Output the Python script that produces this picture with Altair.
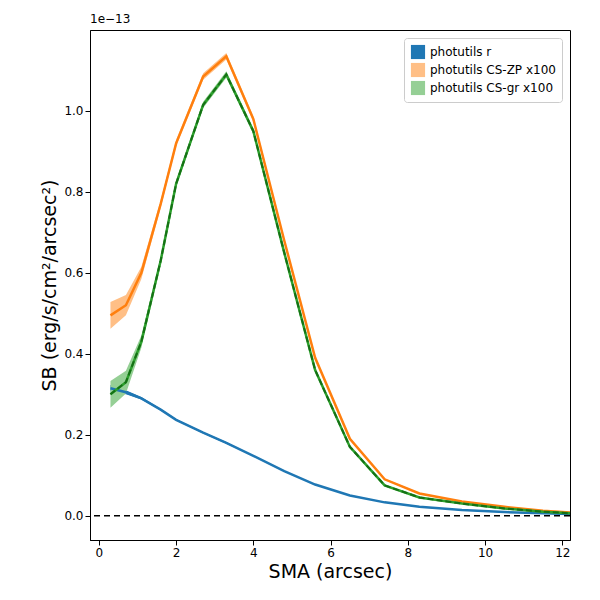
import altair as alt
import pandas as pd

sma = [0.3, 0.7, 1.1, 1.6, 2.0, 2.7, 3.3, 4.0, 4.8, 5.6, 6.5, 7.4, 8.3, 9.4, 10.5, 11.5, 12.2]
sb_r = [0.315, 0.305, 0.29, 0.262, 0.237, 0.205, 0.18, 0.148, 0.11, 0.077, 0.05, 0.033, 0.022, 0.014, 0.009, 0.006, 0.004]
sb_zp = [0.495, 0.52, 0.60, 0.77, 0.92, 1.085, 1.135, 0.98, 0.68, 0.39, 0.19, 0.09, 0.055, 0.035, 0.022, 0.012, 0.008]
sb_gr = [0.30, 0.33, 0.43, 0.63, 0.82, 1.015, 1.09, 0.95, 0.65, 0.36, 0.17, 0.075, 0.045, 0.03, 0.018, 0.01, 0.006]
err_zp = [0.033, 0.025, 0.015, 0.01, 0.008, 0.008, 0.008, 0.007, 0.005, 0.004, 0.003, 0.002, 0.002, 0.001, 0.001, 0.001, 0.001]
err_gr = [0.033, 0.028, 0.015, 0.01, 0.008, 0.008, 0.008, 0.007, 0.005, 0.004, 0.003, 0.002, 0.002, 0.001, 0.001, 0.001, 0.001]
err_r = [0.008, 0.005, 0.003, 0.002, 0.002, 0.002, 0.002, 0.001, 0.001, 0.001, 0.001, 0.001, 0.001, 0.001, 0.001, 0.001, 0.001]

names = ["photutils r", "photutils CS-ZP x100", "photutils CS-gr x100"]
rows = []
for name, vals, errs in zip(names, [sb_r, sb_zp, sb_gr], [err_r, err_zp, err_gr]):
    for x, v, e in zip(sma, vals, errs):
        rows.append({"sma": x, "sb": v, "lo": v - e, "hi": v + e, "series": name})
df = pd.DataFrame(rows)

xs = alt.Scale(domain=[-0.23, 12.2], nice=False)
ys = alt.Scale(domain=[-0.06, 1.2], nice=False)
X = alt.X("sma:Q", scale=xs, title="SMA (arcsec)",
          axis=alt.Axis(values=[0, 2, 4, 6, 8, 10, 12], format="d", grid=False))

bands = alt.Chart(df).mark_area().encode(
    x=X,
    y=alt.Y("lo:Q", scale=ys, title="SB (erg/s/cm²/arcsec²)",
            axis=alt.Axis(values=[0, 0.2, 0.4, 0.6, 0.8, 1.0], format=".1f", grid=False)),
    y2="hi:Q",
    color=alt.Color("series:N", sort=names,
                    scale=alt.Scale(domain=names, range=["#1f77b4", "#ffbf86", "#95cf95"]),
                    legend=alt.Legend(title=None, orient="top-right", symbolType="square",
                                      symbolSize=200, labelFontSize=12, symbolOpacity=1,
                                      strokeColor="#cccccc", fillColor="white", padding=6,
                                      cornerRadius=3, offset=8)),
)

lines = alt.Chart(df).mark_line(strokeWidth=2.5).encode(
    x=X, y=alt.Y("sb:Q", scale=ys),
    color=alt.Color("series:N", scale=alt.Scale(domain=names, range=["#1f77b4", "#ff7f0e", "#2ca02c"]), legend=None),
    detail="series:N",
)

gr_dash = alt.Chart(df[df.series == names[2]]).mark_line(strokeWidth=2, strokeDash=[6, 3], color="#157015").encode(
    x=X, y=alt.Y("sb:Q", scale=ys))

zero = alt.Chart(pd.DataFrame({"y": [0]})).mark_rule(color="black", strokeDash=[6, 4], strokeWidth=1.5).encode(
    y=alt.Y("y:Q", scale=ys))

exp = alt.Chart(pd.DataFrame({"t": ["1e−13"]})).mark_text(align="left", baseline="bottom", fontSize=12, dy=-4).encode(
    x=alt.value(0), y=alt.value(0), text="t:N")

chart = alt.layer(bands, lines, gr_dash, zero, exp).resolve_scale(color="independent").properties(
    width=480, height=510,
    autosize=alt.AutoSizeParams(type="none"),
    padding={"left": 82, "top": 22, "right": 22, "bottom": 52},
).configure_view(stroke="black").configure_axis(
    labelFontSize=12, titleFontSize=19, titleFontWeight="normal", domainColor="black",
    tickColor="black", labelColor="black", titleColor="black", labelFont="DejaVu Sans", titleFont="DejaVu Sans"
).configure_legend(labelFont="DejaVu Sans").configure_text(font="DejaVu Sans")

chart.save("out.html", embed_options={"renderer": "svg", "actions": False})
